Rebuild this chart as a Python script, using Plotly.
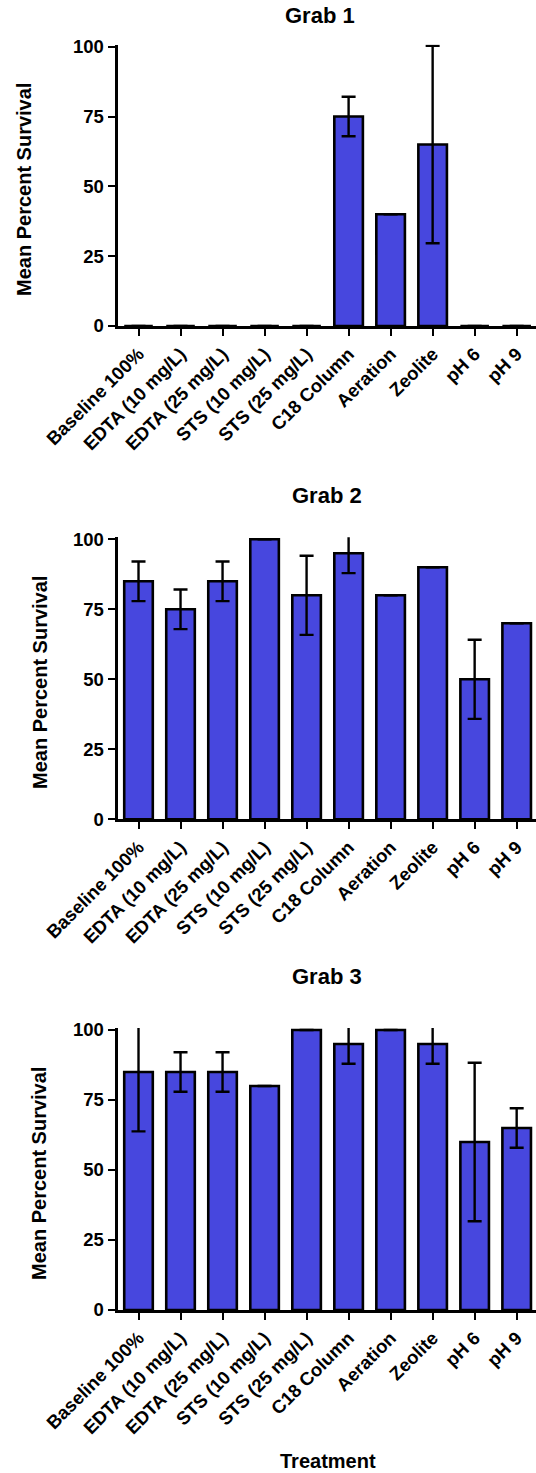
import plotly.graph_objects as go

# Treatment categories shared by all three grabs
treatments = ["Baseline 100%", "EDTA (10 mg/L)", "EDTA (25 mg/L)", "STS (10 mg/L)",
              "STS (25 mg/L)", "C18 Column", "Aeration", "Zeolite", "pH 6", "pH 9"]

# Mean percent survival per treatment
grab1_mean = [0, 0, 0, 0, 0, 75, 40, 65, 0, 0]
grab2_mean = [85, 75, 85, 100, 80, 95, 80, 90, 50, 70]
grab3_mean = [85, 85, 85, 80, 100, 95, 100, 95, 60, 65]

# Standard deviation (None = no error bar drawn)
grab1_sd = [None, None, None, None, None, 7.07, None, 35.36, None, None]
grab2_sd = [7.07, 7.07, 7.07, None, 14.14, 7.07, None, None, 14.14, None]
grab3_sd = [21.21, 7.07, 7.07, None, None, 7.07, None, 7.07, 28.28, 7.07]

panel_titles = ["Grab 1", "Grab 2", "Grab 3"]
y_ticks = [0, 25, 50, 75, 100]

W, H = 536, 1473
BAR_COLOR = "#4747DE"
FONT = "Arial, Liberation Sans, sans-serif"

# pixel geometry of each panel: (y of 0, y of 100)
panels = [(326.0, 46.7), (819.3, 539.3), (1310.0, 1030.0)]
Y_TOP = 100.7
x_left_px = 117.5
title_pos = [(320, 15), (327, 495), (327, 977)]
ytitle_pos = [(24, 190), (40, 683), (39, 1174)]

means = [grab1_mean, grab2_mean, grab3_mean]
sds = [grab1_sd, grab2_sd, grab3_sd]

fig = go.Figure()
annotations = []
for i, (m, s) in enumerate(zip(means, sds)):
    ax = "" if i == 0 else str(i + 1)
    fig.add_trace(go.Bar(
        x=treatments, y=m,
        xaxis="x" + ax, yaxis="y" + ax,
        marker=dict(color=BAR_COLOR, line=dict(color="black", width=2.6)),
        error_y=dict(type="data", array=s, visible=True, color="black",
                     thickness=2.4, width=7),
        showlegend=False, hoverinfo="x+y",
    ))
    y0, y100 = panels[i]
    px_per = (y0 - y100) / 100.0
    top_px = y0 - px_per * Y_TOP
    dom = [1 - y0 / H, 1 - top_px / H]
    fig.layout["xaxis" + ax] = dict(
        domain=[x_left_px / W, 1.0], anchor="y" + ax,
        type="category", range=[-0.5, 9.46],
        showline=True, linecolor="black", linewidth=2.8,
        ticks="outside", ticklen=7, tickwidth=2.4, tickcolor="black",
        tickangle=-45, tickfont=dict(family=FONT, size=18.5, color="black", weight="bold"),
        showgrid=False, zeroline=False, automargin=False, fixedrange=True,
    )
    fig.layout["yaxis" + ax] = dict(
        domain=dom, anchor="x" + ax, range=[0, Y_TOP],
        tickvals=y_ticks, ticktext=[str(t) for t in y_ticks],
        showline=True, linecolor="black", linewidth=2.8,
        ticks="outside", ticklen=7, tickwidth=2.4, tickcolor="black",
        tickfont=dict(family=FONT, size=18.5, color="black", weight="bold"),
        showgrid=False, zeroline=False, automargin=False, fixedrange=True,
    )
    tx, ty = title_pos[i]
    annotations.append(dict(
        text=panel_titles[i], x=tx / W, y=1 - ty / H, xref="paper", yref="paper",
        xanchor="center", yanchor="middle", showarrow=False,
        font=dict(family=FONT, size=22, color="black", weight="bold")))
    yx, yy = ytitle_pos[i]
    annotations.append(dict(
        text="Mean Percent Survival", x=yx / W, y=1 - yy / H, xref="paper", yref="paper",
        xanchor="center", yanchor="middle", showarrow=False, textangle=-90,
        font=dict(family=FONT, size=20, color="black", weight="bold")))

annotations.append(dict(
    text="Treatment", x=328 / W, y=1 - 1461 / H, xref="paper", yref="paper",
    xanchor="center", yanchor="middle", showarrow=False,
    font=dict(family=FONT, size=20, color="black", weight="bold")))

fig.update_layout(
    width=W, height=H,
    margin=dict(l=0, r=0, t=0, b=0),
    paper_bgcolor="white", plot_bgcolor="white",
    bargap=0.32, annotations=annotations, showlegend=False,
)

fig.write_html("out.html", include_plotlyjs=True, config={"displayModeBar": False})
